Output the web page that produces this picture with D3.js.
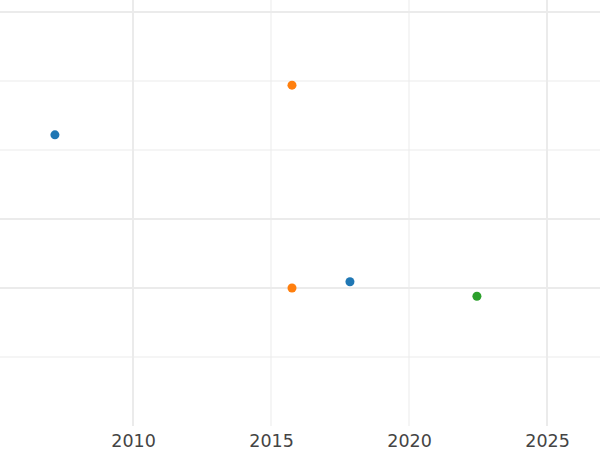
<!DOCTYPE html><html><head><meta charset="utf-8"><script src="https://cdn.jsdelivr.net/npm/d3@7"></script>
<style>body{margin:0;background:#fff}</style></head><body><svg id="c" width="600" height="450"></svg><script>
const xs=[2007.17,2015.76,2015.76,2017.86,2022.46];
const ys=[4.22,4.94,2.0,2.09,1.88];
const groups=["a","b","b","a","c"];
const colors={a:"#1f77b4",b:"#ff7f0e",c:"#2ca02c"};
const xTicks=[2010,2015,2020,2025];
const xMajor=[2010,2025];
const yLines=[1,2,3,4,5,6];
const yMajor=[2,3,6];
const svg=d3.select("#c");
const x=d3.scaleLinear().domain([2005.18,2026.92]).range([0,600]);
const y=d3.scaleLinear().domain([0,6]).range([426,12]);
const g=svg.append("g");
g.selectAll("line.h").data(yLines).enter().append("line").attr("x1",0).attr("x2",600)
 .attr("y1",d=>y(d)).attr("y2",d=>y(d)).attr("stroke","#ebebeb").attr("stroke-width",d=>yMajor.includes(d)?2:1);
g.selectAll("line.v").data(xTicks).enter().append("line").attr("y1",0).attr("y2",426)
 .attr("x1",d=>x(d)).attr("x2",d=>x(d)).attr("stroke","#ebebeb").attr("stroke-width",d=>xMajor.includes(d)?2:1);
svg.append("g").attr("transform","translate(0,426)").call(d3.axisBottom(x).tickValues(xTicks).tickFormat(d3.format("d")).tickSize(0).tickPadding(9))
 .call(a=>a.select(".domain").remove()).selectAll("text").attr("font-family","DejaVu Sans").attr("font-size",17.5).attr("fill","#444");
svg.selectAll("circle").data(xs).enter().append("circle").attr("cx",d=>x(d)).attr("cy",(d,i)=>y(ys[i])).attr("r",4.5)
 .attr("fill",(d,i)=>colors[groups[i]]);
</script></body></html>
